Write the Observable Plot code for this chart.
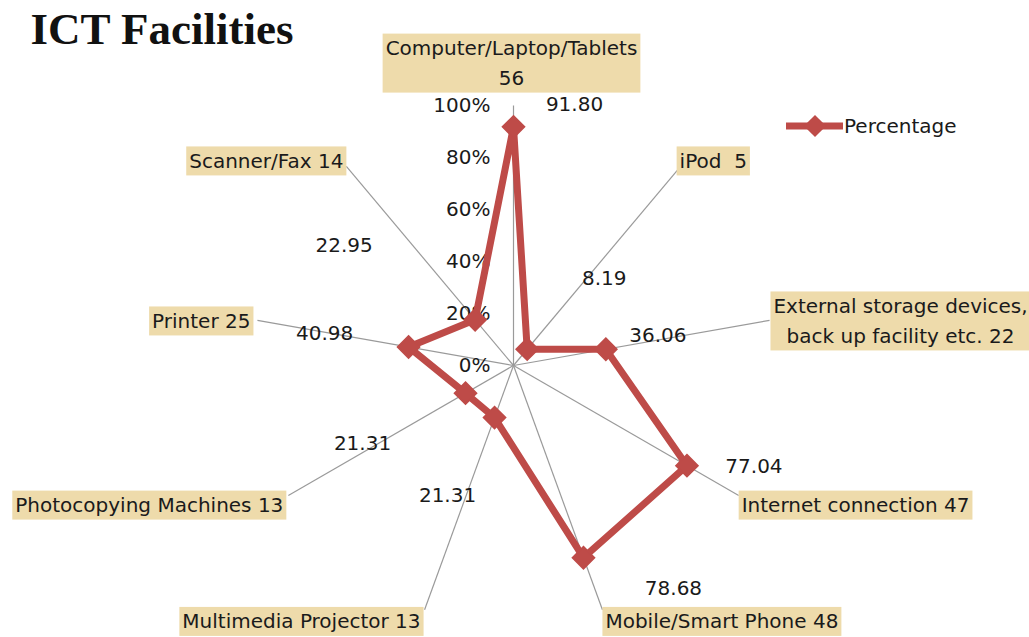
<!DOCTYPE html>
<html><head><meta charset="utf-8">
<script src="https://cdn.jsdelivr.net/npm/d3@7"></script>
<script src="https://cdn.jsdelivr.net/npm/@observablehq/plot@0.6"></script>
<style>
html,body{margin:0;padding:0;background:#fff;}
#chart{position:relative;width:1029px;height:637px;}
#legend{position:absolute;left:786px;top:114px;height:24px;display:flex;align-items:center;font-family:"DejaVu Sans";font-size:20px;color:#1a1a1a;}
#legend svg{display:block;margin-right:1px;}
</style></head><body><div id="chart"></div>
<script>
// ---- data ----
const categories = [
  "Computer/Laptop/Tablets\n56",
  "iPod  5",
  "External storage devices,\nback up facility etc. 22",
  "Internet connection 47",
  "Mobile/Smart Phone 48",
  "Multimedia Projector 13",
  "Photocopying Machines 13",
  "Printer 25",
  "Scanner/Fax 14"
];
const percentages = [91.80, 8.19, 36.06, 77.04, 78.68, 21.31, 21.31, 40.98, 22.95];
const valueLabels = ["91.80", "8.19", "36.06", "77.04", "78.68", "21.31", "21.31", "40.98", "22.95"];
const tickValues = [0, 20, 40, 60, 80, 100];
const tickLabels = ["0%", "20%", "40%", "60%", "80%", "100%"];
const seriesName = "Percentage";
const titleText = "ICT Facilities";

// ---- layout (label placement, pixels) ----
const categoryLabelLayout = [
  {anchor: "middle", dx: -2, dy: -45},
  {anchor: "start", dx: -1, dy: -8},
  {anchor: "middle", dx: 131, dy: -2},
  {anchor: "start", dx: 3, dy: 7},
  {anchor: "start", dx: 3, dy: 9},
  {anchor: "end", dx: -4, dy: 9},
  {anchor: "end", dx: -5, dy: 7},
  {anchor: "end", dx: -7, dy: -2},
  {anchor: "end", dx: -3, dy: -8}
];
const valueLabelLayout = [
  [61, -22], [77, -71], [52, -14], [67, 1], [90, 31], [-47, 78], [-103, 50], [-84, -13], [-131, -74]
];

const W = 1029, H = 637, CX = 513, CY = 365, R = 260, MAXV = 100;
const RED = "#be4b48";
const FONT = "DejaVu Sans";
const CAT_FILL = "#1a1a1b";

const n = categories.length;
const angle = i => (i * 2 * Math.PI) / n;
const px = (v, i) => v * Math.sin(angle(i));
const py = (v, i) => v * Math.cos(angle(i));

const points = percentages.map((v, i) => ({i, v, x: px(v, i), y: py(v, i), label: valueLabels[i]}));
const spokes = categories.map((c, i) => ({i, x2: px(MAXV, i), y2: py(MAXV, i)}));
const ends = categories.map((c, i) => ({c, x: px(MAXV, i), y: py(MAXV, i)}));
const ticks = tickValues.map((t, k) => ({t, label: tickLabels[k]}));

const marks = [
  Plot.link(spokes, {x1: 0, y1: 0, x2: "x2", y2: "y2", stroke: "#9a9a9a", strokeWidth: 1.2}),
  Plot.text(ticks, {x: 0, y: "t", text: "label", textAnchor: "end", dx: -23, fontSize: 20, fill: "#1a1a1a"}),
  Plot.line(points, {x: "x", y: "y", curve: "linear-closed", stroke: RED, strokeWidth: 7, strokeLinejoin: "round"}),
  Plot.dot(points, {x: "x", y: "y", symbol: "diamond2", r: 10, fill: RED, stroke: RED})
];
points.forEach((p, k) => {
  marks.push(Plot.text([p], {x: "x", y: "y", text: "label", dx: valueLabelLayout[k][0], dy: valueLabelLayout[k][1], fontSize: 20, fill: "#1a1a1a"}));
});
ends.forEach((e, k) => {
  const L = categoryLabelLayout[k];
  marks.push(Plot.text([e], {x: "x", y: "y", text: "c", textAnchor: L.anchor, dx: L.dx, dy: L.dy, lineHeight: 1.5, fontSize: 20, fill: CAT_FILL}));
});
marks.push(Plot.text([titleText], {frameAnchor: "top-left", dx: 30, dy: 12, lineAnchor: "top", textAnchor: "start", fontFamily: "Liberation Serif", fontWeight: "bold", fontSize: 45, fill: "#111"}));

const chart = Plot.plot({
  width: W, height: H,
  marginTop: 0, marginRight: 0, marginBottom: 0, marginLeft: 0,
  x: {domain: [-CX / R * MAXV, (W - CX) / R * MAXV], axis: null},
  y: {domain: [-(H - CY) / R * MAXV, CY / R * MAXV], axis: null},
  style: {fontFamily: FONT, fontSize: "20px", background: "white", overflow: "visible"},
  marks
});
const holder = document.getElementById("chart");
holder.appendChild(chart);

// background boxes behind category labels
const labelTexts = Array.from(chart.querySelectorAll("text")).filter(t => {
  const g = t.closest("g[fill]");
  return g && g.getAttribute("fill") === CAT_FILL;
});
labelTexts.forEach(t => {
  const b = t.getBBox();
  const padX = 3, padY = 2.5;
  const rect = document.createElementNS("http://www.w3.org/2000/svg", "rect");
  rect.setAttribute("x", b.x - padX);
  rect.setAttribute("y", b.y - padY);
  rect.setAttribute("width", b.width + 2 * padX);
  rect.setAttribute("height", b.height + 2 * padY);
  const tr = t.getAttribute("transform");
  if (tr) rect.setAttribute("transform", tr);
  rect.setAttribute("fill", "#eedbab");
  t.parentNode.insertBefore(rect, t);
});

// legend
const legend = d3.select(holder).append("div").attr("id", "legend");
const ls = legend.append("svg").attr("width", 57).attr("height", 24);
ls.append("line").attr("x1", 1).attr("x2", 56).attr("y1", 12).attr("y2", 12).attr("stroke", RED).attr("stroke-width", 7).attr("stroke-linecap", "round");
ls.append("path").attr("d", d3.symbol(d3.symbolDiamond2, Math.PI * 100)()).attr("transform", "translate(29,12)").attr("fill", RED);
legend.append("span").text(seriesName);
</script>
</body></html>
